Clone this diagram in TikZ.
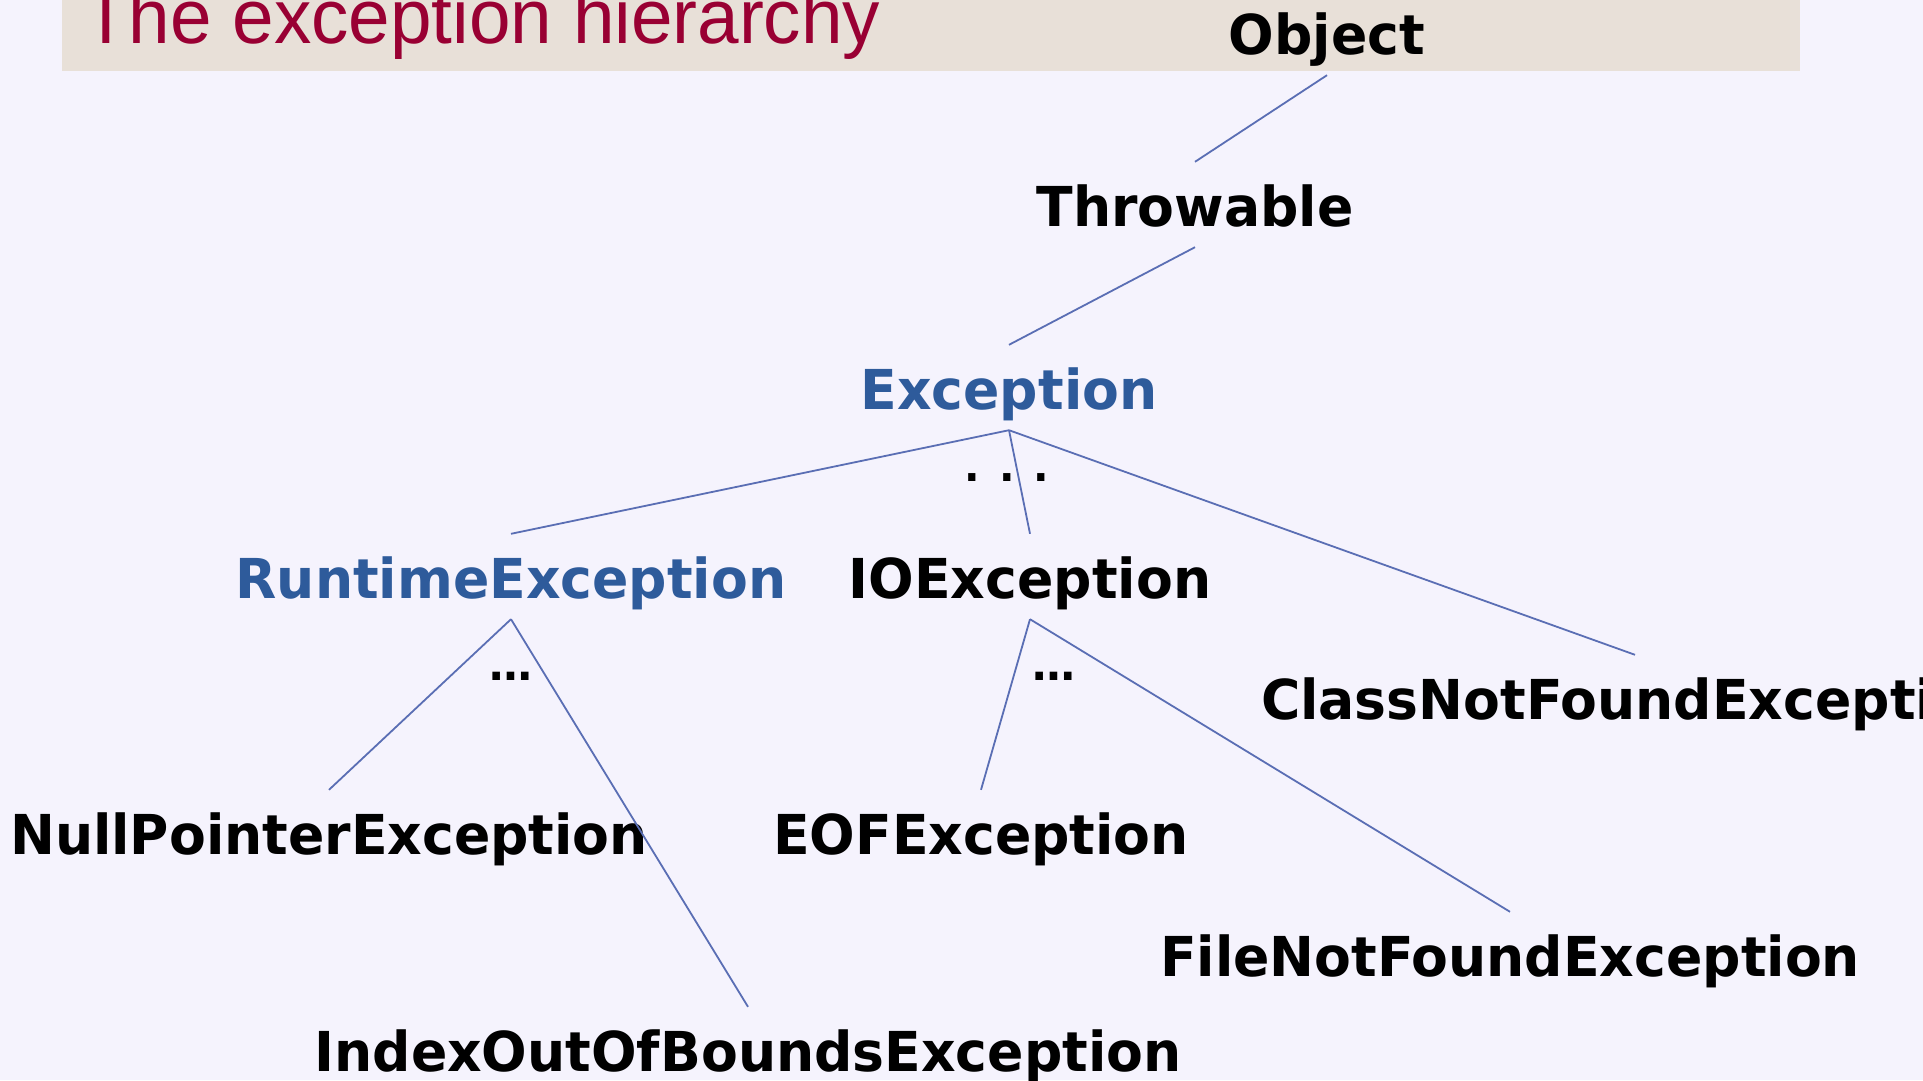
\documentclass[tikz,border=0pt]{standalone}
\usepackage{fontspec}
\setmainfont{DejaVu Sans}
\newfontfamily\nodefont{DejaVu Sans}[FakeStretch=0.975]
\newfontfamily\titlefont{Liberation Sans}[FakeStretch=0.97]
\definecolor{bgcol}{HTML}{F5F3FD}
\definecolor{bandcol}{HTML}{E8E0D8}
\definecolor{titlered}{HTML}{990033}
\definecolor{linkblue}{HTML}{5A6EB4}
\definecolor{supblue}{HTML}{2E5B9B}
\begin{document}
\begin{tikzpicture}[x=1pt,y=-1pt,
  cls/.style={font=\nodefont\bfseries\fontsize{55}{66}\selectfont, inner sep=0pt, text height=64pt, text depth=21pt, anchor=base},
  sup/.style={cls, text=supblue},
  link/.style={draw=linkblue, line width=1.8pt},
  more/.style={font=\nodefont\bfseries\fontsize{44}{50}\selectfont, inner sep=0pt, anchor=base},
  spaced/.style={font=\nodefont\bfseries\fontsize{42}{50}\selectfont, inner sep=0pt, anchor=base}]
\useasboundingbox (0,0) rectangle (1923,1080);
\clip (0,0) rectangle (1923,1080);
\fill[bgcol] (0,0) rectangle (1923,1080);
\fill[bandcol] (62,0) rectangle (1800,70.5);
\node[font=\titlefont\fontsize{77}{90}\selectfont, text=titlered, inner sep=0pt, anchor=base west] (title) at (83,43) {The exception hierarchy};

\node[cls] (obj) at (1327,54) {Object};
\node[cls] (thr) at (1195,226) {Throwable};
\node[sup] (exc) at (1009,409) {Exception};
\node[sup] (rte) at (511,598) {RuntimeException};
\node[cls] (ioe) at (1030,598) {IOException};
\node[cls] (cnf) at (1635,719) {ClassNotFoundException};
\node[cls] (npe) at (329,854) {NullPointerException};
\node[cls] (eof) at (981,854) {EOFException};
\node[cls] (fnf) at (1510,976) {FileNotFoundException};
\node[cls] (iob) at (748,1071) {IndexOutOfBoundsException};

\node[spaced] (dots1) at (1007,481) {. . .};
\node[more] (dots2) at (511,680) {…};
\node[more] (dots3) at (1054,680) {…};

\draw[link] (obj.south) -- (thr.north);
\draw[link] (thr.south) -- (exc.north);
\draw[link] (exc.south) -- (rte.north);
\draw[link] (exc.south) -- (ioe.north);
\draw[link] (exc.south) -- (cnf.north);
\draw[link] (rte.south) -- (npe.north);
\draw[link] (rte.south) -- (iob.north);
\draw[link] (ioe.south) -- (eof.north);
\draw[link] (ioe.south) -- (fnf.north);
\end{tikzpicture}
\end{document}
